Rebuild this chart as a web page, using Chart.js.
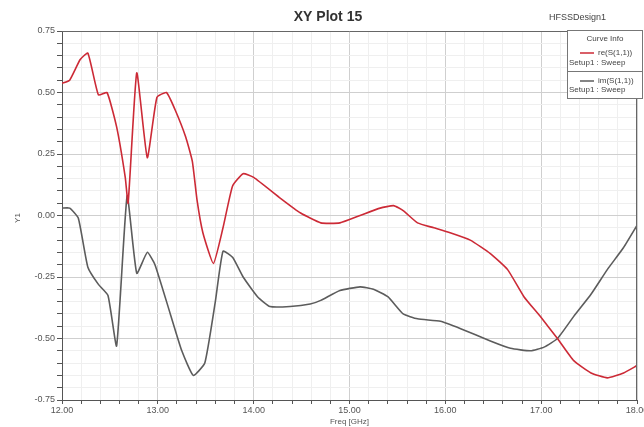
<!DOCTYPE html>
<html lang="en">
<head>
    <meta charset="UTF-8">
    <title>XY Plot 15</title>
    <script src="https://cdn.jsdelivr.net/npm/chart.js@4.4.0/dist/chart.umd.min.js"></script>
    <style>
        html, body { margin: 0; padding: 0; background: #fff; }
        .chart-container { width: 644px; height: 427px; position: relative; }
    </style>
</head>
<body>
    <div class="chart-container">
        <canvas id="chart" width="644" height="427"></canvas>
    </div>

    <script>
        // values
        const reFreq = [12.00, 12.08, 12.19, 12.27, 12.38, 12.47, 12.57, 12.66, 12.69, 12.78,
            12.89, 12.99, 13.09, 13.18, 13.29, 13.36, 13.41, 13.47, 13.58, 13.68,
            13.78, 13.89, 14.00, 14.28, 14.49, 14.70, 14.90, 15.11, 15.32, 15.46,
            15.56, 15.71, 15.88, 16.05, 16.26, 16.47, 16.65, 16.82, 16.99, 17.17,
            17.34, 17.52, 17.69, 17.86, 18.00];
        const reVals = [0.537, 0.55, 0.634, 0.66, 0.49, 0.50, 0.36, 0.155, 0.05, 0.58,
            0.235, 0.48, 0.50, 0.43, 0.32, 0.22, 0.06, -0.07, -0.195, -0.05,
            0.12, 0.17, 0.155, 0.07, 0.01, -0.03, -0.03, 0.0, 0.03, 0.04,
            0.02, -0.03, -0.05, -0.07, -0.10, -0.155, -0.22, -0.33, -0.41, -0.50,
            -0.59, -0.64, -0.66, -0.64, -0.61];

        const imFreq = [12.00, 12.08, 12.17, 12.27, 12.38, 12.48, 12.57, 12.68, 12.78, 12.89,
            12.97, 13.13, 13.25, 13.37, 13.49, 13.60, 13.68, 13.78, 13.89, 14.04,
            14.17, 14.38, 14.59, 14.70, 14.90, 15.11, 15.25, 15.40, 15.56, 15.71,
            15.95, 16.16, 16.47, 16.68, 16.89, 17.03, 17.17, 17.34, 17.52, 17.69,
            17.86, 18.00];
        const imVals = [0.03, 0.03, -0.01, -0.21, -0.28, -0.325, -0.53, 0.08, -0.235, -0.15,
            -0.20, -0.40, -0.55, -0.65, -0.60, -0.35, -0.145, -0.17, -0.25, -0.33,
            -0.37, -0.37, -0.36, -0.345, -0.305, -0.29, -0.30, -0.33, -0.40, -0.42,
            -0.43, -0.46, -0.51, -0.54, -0.55, -0.535, -0.50, -0.41, -0.32, -0.22,
            -0.13, -0.04];

        const seriesNames = ["re(S(1,1))", "im(S(1,1))"];
        const sweepName = "Setup1 : Sweep";
        const plotTitle = "XY Plot 15";
        const designName = "HFSSDesign1";
        const yTitle = "Y1";

        const RED = "#cc2a36";
        const GREY = "#5c5c5c";

        function toPoints(xs, ys) {
            return xs.map((x, i) => ({ x: x, y: ys[i] }));
        }

        function isMajor(v, step) {
            const r = v / step;
            return Math.abs(r - Math.round(r)) < 1e-6;
        }

        // title, design name, frame and curve info box
        const decorations = {
            id: "decorations",
            afterDraw(chart) {
                const c = chart.ctx;
                const a = chart.chartArea;
                c.save();
                c.strokeStyle = "#666";
                c.lineWidth = 1;
                c.beginPath();
                c.moveTo(a.left, a.top + 0.5);
                c.lineTo(a.right, a.top + 0.5);
                c.moveTo(a.right - 0.5, a.top);
                c.lineTo(a.right - 0.5, a.bottom);
                c.stroke();

                c.fillStyle = "#333";
                c.font = "bold 14px 'Liberation Sans', Arial, sans-serif";
                c.textAlign = "center";
                c.textBaseline = "middle";
                c.fillText(plotTitle, 328, 17);

                c.font = "9px 'Liberation Sans', Arial, sans-serif";
                c.fillStyle = "#444";
                c.textAlign = "left";
                c.fillText(designName, 549, 18);

                // y axis title
                c.save();
                c.translate(18, 218);
                c.rotate(-Math.PI / 2);
                c.font = "8px 'Liberation Sans', Arial, sans-serif";
                c.fillStyle = "#555";
                c.textAlign = "center";
                c.fillText(yTitle, 0, 0);
                c.restore();

                // curve info box
                const bx = 567, by = 30, bw = 75, bh = 68;
                c.fillStyle = "#fff";
                c.fillRect(bx, by, bw, bh);
                c.strokeStyle = "#777";
                c.strokeRect(bx + 0.5, by + 0.5, bw, bh);
                c.beginPath();
                c.moveTo(bx, 71.5);
                c.lineTo(bx + bw, 71.5);
                c.stroke();

                c.font = "8px 'Liberation Sans', Arial, sans-serif";
                c.fillStyle = "#444";
                c.textAlign = "center";
                c.fillText("Curve Info", 605, 39);

                const rows = [[53, 63, RED, seriesNames[0]], [81, 90, GREY, seriesNames[1]]];
                rows.forEach(r => {
                    c.strokeStyle = r[2];
                    c.lineWidth = 1.5;
                    c.beginPath();
                    c.moveTo(580, r[0]);
                    c.lineTo(594, r[0]);
                    c.stroke();
                    c.fillStyle = "#444";
                    c.textAlign = "left";
                    c.fillText(r[3], 598, r[0]);
                    c.fillText(sweepName, 569, r[1]);
                });
                c.restore();
            }
        };

        const tickFont = { size: 9, family: "'Liberation Sans', Arial, sans-serif" };

        const ctx = document.getElementById("chart").getContext("2d");
        new Chart(ctx, {
            type: "line",
            data: {
                datasets: [
                    {
                        label: seriesNames[0],
                        data: toPoints(reFreq, reVals),
                        borderColor: RED,
                        borderWidth: 1.6,
                        pointRadius: 0,
                        tension: 0.15,
                        fill: false
                    },
                    {
                        label: seriesNames[1],
                        data: toPoints(imFreq, imVals),
                        borderColor: GREY,
                        borderWidth: 1.6,
                        pointRadius: 0,
                        tension: 0.15,
                        fill: false
                    }
                ]
            },
            options: {
                responsive: false,
                animation: false,
                maintainAspectRatio: false,
                layout: { padding: { top: 31, right: 7, left: 0, bottom: 0 } },
                plugins: {
                    legend: { display: false },
                    tooltip: { enabled: false }
                },
                scales: {
                    x: {
                        type: "linear",
                        min: 12,
                        max: 18,
                        afterFit(scale) {
                            scale.height = 27;
                            scale.paddingLeft = 0;
                            scale.paddingRight = 0;
                        },
                        ticks: {
                            stepSize: 0.2,
                            autoSkip: false,
                            maxRotation: 0,
                            padding: 1,
                            color: "#555",
                            font: tickFont,
                            callback: v => isMajor(v, 1) ? v.toFixed(2) : ""
                        },
                        grid: {
                            color: c => isMajor(c.tick.value, 1) ? "#cfcfcf" : "#efefef",
                            tickColor: "#555",
                            tickLength: 4
                        },
                        border: { color: "#555" },
                        title: {
                            display: true,
                            text: "Freq [GHz]",
                            color: "#555",
                            padding: 0,
                            font: { size: 8, family: "'Liberation Sans', Arial, sans-serif" }
                        }
                    },
                    y: {
                        min: -0.75,
                        max: 0.75,
                        afterFit(scale) { scale.width = 62; },
                        ticks: {
                            stepSize: 0.05,
                            autoSkip: false,
                            padding: 2,
                            color: "#555",
                            font: tickFont,
                            callback: v => isMajor(v, 0.25) ? v.toFixed(2) : ""
                        },
                        grid: {
                            color: c => isMajor(c.tick.value, 0.25) ? "#cfcfcf" : "#efefef",
                            tickColor: "#555",
                            tickLength: 5
                        },
                        border: { color: "#555" }
                    }
                }
            },
            plugins: [decorations]
        });
    </script>
</body>
</html>
